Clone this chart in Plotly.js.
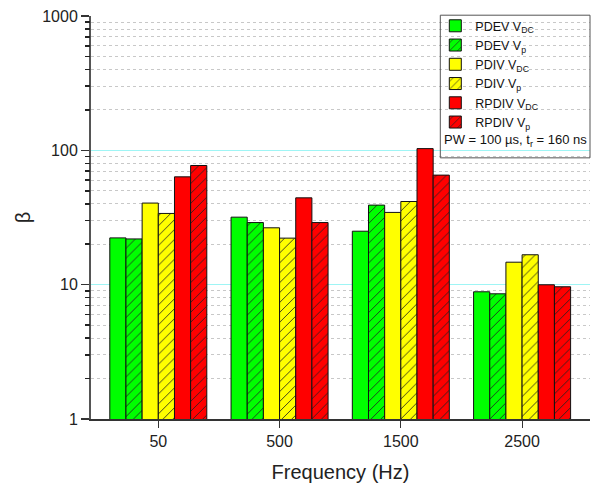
<!DOCTYPE html>
<html>
<head>
<meta charset="utf-8">
<script src="https://cdn.plot.ly/plotly-3.0.1.min.js"></script>
<style>html,body{margin:0;padding:0;background:#fff;}#chart{width:593px;height:486px;}</style>
</head>
<body>
<div id="chart"></div>
<script>
const categories = ["50", "500", "1500", "2500"];
const seriesNames = ["PDEV V<sub>DC</sub>", "PDEV V<sub>p</sub>", "PDIV V<sub>DC</sub>", "PDIV V<sub>p</sub>", "RPDIV V<sub>DC</sub>", "RPDIV V<sub>p</sub>"];
const pdevVdc  = [22.3, 31.8, 25.0, 8.85];
const pdevVp   = [21.9, 29.0, 39.1, 8.55];
const pdivVdc  = [40.5, 26.5, 34.5, 14.7];
const pdivVp   = [33.9, 22.2, 41.6, 16.7];
const rpdivVdc = [63.5, 44.3, 103, 9.98];
const rpdivVp  = [77.1, 29.0, 65.4, 9.65];
const yMajorTicks = [1, 10, 100, 1000];
const yMinorTicks = [2, 3, 4, 5, 6, 7, 8, 9, 20, 30, 40, 50, 60, 70, 80, 90, 200, 300, 400, 500, 600, 700, 800, 900];
const noteText = "PW = 100 \u00b5s, t<sub>r</sub> = 160 ns";

const seriesValues = [pdevVdc, pdevVp, pdivVdc, pdivVp, rpdivVdc, rpdivVp];
const colors = ["#00ff00", "#00ff00", "#ffff00", "#ffff00", "#ff0000", "#ff0000"];
const hatched = [false, true, false, true, false, true];

const traces = seriesValues.map((vals, i) => ({
  type: "bar",
  name: seriesNames[i],
  x: categories,
  y: vals,
  yaxis: "y",
  marker: {
    color: colors[i],
    line: {color: "#111", width: 1},
    pattern: hatched[i]
      ? {shape: "/", fgcolor: "#222", bgcolor: colors[i], fillmode: "replace", size: 7, solidity: 0.12}
      : {shape: ""}
  }
}));
// empty helper trace so the major-tick axis is drawn
traces.push({type: "scatter", mode: "markers", x: [], y: [], yaxis: "y2", showlegend: false, hoverinfo: "skip"});

const font = "Arial, 'Liberation Sans', sans-serif";
const layout = {
  width: 593, height: 486,
  margin: {l: 91, r: 3, t: 16, b: 67},
  paper_bgcolor: "#fff", plot_bgcolor: "#fff",
  font: {family: font, color: "#222", size: 15},
  barmode: "group", bargap: 0.2, bargroupgap: 0,
  showlegend: true,
  legend: {
    x: 0.69, y: 1.012, xanchor: "left", yanchor: "top",
    bgcolor: "rgba(255,255,255,0)", borderwidth: 0,
    font: {family: font, size: 12.5, color: "#111"},
    tracegroupgap: 0
  },
  xaxis: {
    type: "category",
    range: [-0.555, 3.56],
    showline: true, linecolor: "#333", linewidth: 1.5,
    ticks: "outside", ticklen: 7, tickcolor: "#333", tickwidth: 1,
    showgrid: false, zeroline: false,
    tickfont: {size: 16, family: font, color: "#222"},
    title: {text: "Frequency (Hz)", font: {size: 20, family: font, color: "#222"}, standoff: 16}
  },
  yaxis: {
    type: "log",
    range: [0, 3],
    tickmode: "array",
    tickvals: yMinorTicks,
    ticktext: yMinorTicks.map(() => ""),
    showline: false,
    ticks: "outside", ticklen: 5, tickcolor: "#222", tickwidth: 1.5,
    showgrid: true, gridcolor: "#c8c8c8", griddash: "dot", gridwidth: 1,
    zeroline: false
  },
  yaxis2: {
    type: "log",
    range: [0, 3],
    overlaying: "y", side: "left",
    tickmode: "array",
    tickvals: yMajorTicks,
    ticktext: yMajorTicks.map(String),
    showline: true, linecolor: "#555", linewidth: 2,
    ticks: "outside", ticklen: 8, tickcolor: "#333", tickwidth: 1.5,
    showgrid: true, gridcolor: "#9ff5f5", gridwidth: 1.2,
    zeroline: false,
    tickfont: {size: 16, family: font, color: "#222"},
    title: {text: "\u03b2", font: {size: 20, family: font, color: "#222"}, standoff: 6}
  },
  shapes: [{
    type: "rect", xref: "paper", yref: "paper",
    x0: 0.700, x1: 1.0, y0: 0.648, y1: 1.002,
    line: {color: "#555", width: 1}, fillcolor: "rgba(0,0,0,0)", layer: "above"
  }],
  annotations: [{
    xref: "paper", yref: "paper", x: 0.703, y: 0.692, xanchor: "left", yanchor: "middle",
    text: noteText, showarrow: false, font: {family: font, size: 13, color: "#111"}
  }]
};

Plotly.newPlot("chart", traces, layout, {displayModeBar: false, staticPlot: true});
</script>
</body>
</html>
